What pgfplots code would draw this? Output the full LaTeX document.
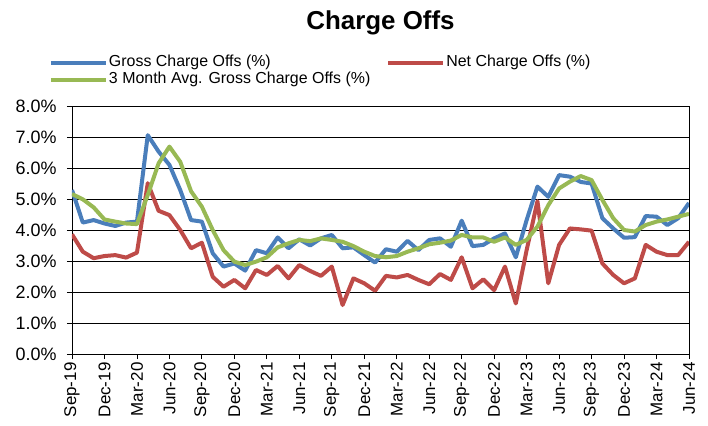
\documentclass[border=0pt]{standalone}
\usepackage{fontspec}
\setmainfont{Liberation Sans}
\usepackage{pgfplots}
\usepackage{pgfplotstable}
\pgfplotsset{compat=1.18}
\definecolor{cblue}{RGB}{74,126,187}
\definecolor{cred}{RGB}{190,75,72}
\definecolor{cgreen}{RGB}{152,185,84}
\pgfplotstableread{
i blue net avg
0 5.29 3.86 5.16
1 4.24 3.30 4.99
2 4.32 3.09 4.73
3 4.21 3.16 4.34
4 4.13 3.19 4.27
5 4.24 3.11 4.21
6 4.27 3.27 4.19
7 7.06 5.51 5.13
8 6.53 4.62 6.15
9 6.10 4.48 6.69
10 5.29 4.00 6.20
11 4.32 3.41 5.25
12 4.27 3.59 4.75
13 3.25 2.49 4.00
14 2.82 2.17 3.35
15 2.92 2.39 2.98
16 2.69 2.12 2.87
17 3.35 2.71 2.98
18 3.25 2.55 3.12
19 3.76 2.84 3.44
20 3.41 2.44 3.57
21 3.70 2.87 3.68
22 3.50 2.68 3.64
23 3.73 2.52 3.73
24 3.84 2.82 3.68
25 3.41 1.58 3.62
26 3.44 2.44 3.48
27 3.19 2.28 3.30
28 2.95 2.04 3.16
29 3.38 2.52 3.12
30 3.30 2.47 3.16
31 3.65 2.55 3.30
32 3.35 2.39 3.41
33 3.68 2.25 3.54
34 3.73 2.58 3.59
35 3.46 2.39 3.66
36 4.30 3.12 3.84
37 3.48 2.12 3.76
38 3.52 2.41 3.76
39 3.73 2.06 3.62
40 3.89 2.82 3.76
41 3.12 1.63 3.52
42 4.32 3.35 3.68
43 5.40 4.93 4.11
44 5.07 2.28 4.80
45 5.77 3.52 5.34
46 5.72 4.05 5.56
47 5.55 4.02 5.74
48 5.50 3.98 5.61
49 4.38 2.92 4.97
50 4.05 2.55 4.38
51 3.75 2.28 4.00
52 3.77 2.44 3.95
53 4.45 3.52 4.16
54 4.43 3.30 4.27
55 4.16 3.19 4.34
56 4.38 3.19 4.43
57 4.87 3.62 4.52
}\data
\begin{document}
\begin{tikzpicture}
\begin{axis}[
  scale only axis, width=617bp, height=248bp,
  xmin=0, xmax=57, ymin=0, ymax=8,
  xtick={0,3,...,57},
  xticklabels={Sep-19,Dec-19,Mar-20,Jun-20,Sep-20,Dec-20,Mar-21,Jun-21,Sep-21,Dec-21,Mar-22,Jun-22,Sep-22,Dec-22,Mar-23,Jun-23,Sep-23,Dec-23,Mar-24,Jun-24},
  ytick={0,1,...,8},
  yticklabels={0.0\%,1.0\%,2.0\%,3.0\%,4.0\%,5.0\%,6.0\%,7.0\%,8.0\%},
  xtick pos=bottom, ytick pos=left,
  tick align=outside, major tick length=5bp,
  tick style={black, line width=0.8bp},
  ymajorgrids, grid style={black, line width=0.8bp},
  axis line style={black, line width=0.8bp},
  x tick label style={rotate=90, anchor=east, font=\fontsize{17}{17}\selectfont},
  y tick label style={font=\fontsize{18}{18}\selectfont, xshift=-7bp},
  title={Charge Offs},
  title style={at={(0.5,1)}, anchor=base, yshift=71bp, font=\bfseries\fontsize{26}{28}\selectfont},
  legend columns=2,
  legend cell align=left,
  legend style={at={(0,1)}, anchor=south west, xshift=-23bp, yshift=18bp,
    draw=none, fill=none, inner sep=0pt, outer sep=0pt,
    font=\fontsize{16}{16}\selectfont, column sep=0bp,
    /tikz/every even column/.append style={column sep=15bp},
    nodes={inner sep=1bp, text height=11.5bp, text depth=3.5bp}},
  legend image code/.code={\draw[#1, line width=4bp] (0bp,0bp) -- (55bp,0bp);},
  every axis plot/.append style={line width=4bp, line join=round, no markers},
]
\addplot[cblue] table[x=i, y=blue] {\data};
\addlegendentry{Gross Charge Offs (\%)}
\addplot[cred] table[x=i, y=net] {\data};
\addlegendentry{Net Charge Offs (\%)}
\addplot[cgreen] table[x=i, y=avg] {\data};
\addlegendentry{3 Month Avg. Gross Charge Offs (\%)}
\end{axis}
\pgfresetboundingbox
\path (-72bp,-72bp) rectangle (636bp,354bp);
\end{tikzpicture}
\end{document}
